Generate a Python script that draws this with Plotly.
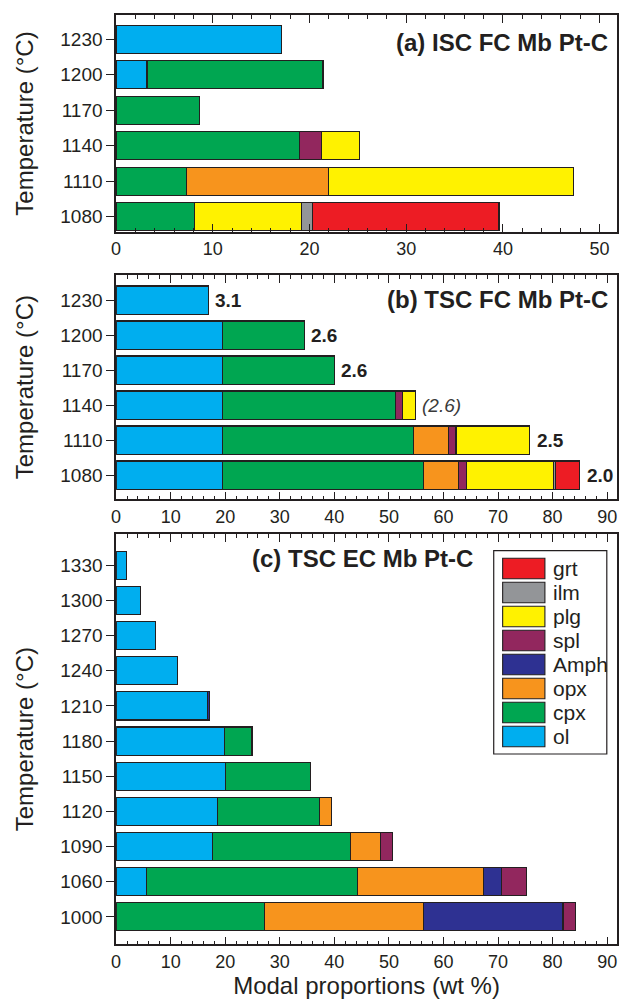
import plotly.graph_objects as go

# ---------------- data ----------------
minerals = ["ol", "cpx", "opx", "Amph", "spl", "plg", "ilm", "grt"]
colors = {
    "ol": "#00AEEF", "cpx": "#00A651", "opx": "#F7941D", "Amph": "#2E3192",
    "spl": "#92275E", "plg": "#FFF200", "ilm": "#939598", "grt": "#ED1C24",
}

# (a) ISC FC Mb Pt-C
temps_a = ["1080", "1110", "1140", "1170", "1200", "1230"]
a_ol = [None, None, None, None, 3.2, 17.1]
a_cpx = [8.1, 7.3, 19.0, 8.6, 18.2, None]
a_opx = [None, 14.7, None, None, None, None]
a_spl = [None, None, 2.2, None, None, None]
a_plg = [11.1, 25.3, 4.0, None, None, None]
a_ilm = [1.1, None, None, None, None, None]
a_grt = [19.3, None, None, None, None, None]

# (b) TSC FC Mb Pt-C
temps_b = ["1080", "1110", "1140", "1170", "1200", "1230"]
b_ol = [19.5, 19.5, 19.5, 19.5, 19.5, 16.9]
b_cpx = [36.8, 35.0, 31.7, 20.5, 15.0, None]
b_opx = [6.5, 6.4, None, None, None, None]
b_spl = [1.4, 1.4, 1.3, None, None, None]
b_plg = [16.0, 13.5, 2.3, None, None, None]
b_ilm = [0.4, None, None, None, None, None]
b_grt = [4.4, None, None, None, None, None]
b_labels = ["2.0", "2.5", "(2.6)", "2.6", "2.6", "3.1"]

# (c) TSC EC Mb Pt-C
temps_c = ["1000", "1060", "1090", "1120", "1150", "1180", "1210", "1240", "1270", "1300", "1330"]
c_ol = [None, 5.5, 17.7, 18.6, 20.0, 19.9, 16.8, 11.2, 7.2, 4.4, 1.9]
c_cpx = [27.2, 38.8, 25.3, 18.6, 15.7, 5.0, None, None, None, None, None]
c_opx = [29.1, 23.1, 5.4, 2.3, None, None, None, None, None, None, None]
c_amph = [25.6, 3.2, None, None, None, None, 0.4, None, None, None, None]
c_spl = [2.3, 4.6, 2.2, None, None, None, None, None, None, None, None]

panels = [
    ("a", temps_a, {"ol": a_ol, "cpx": a_cpx, "opx": a_opx, "spl": a_spl,
                    "plg": a_plg, "ilm": a_ilm, "grt": a_grt}),
    ("b", temps_b, {"ol": b_ol, "cpx": b_cpx, "opx": b_opx, "spl": b_spl,
                    "plg": b_plg, "ilm": b_ilm, "grt": b_grt}),
    ("c", temps_c, {"ol": c_ol, "cpx": c_cpx, "opx": c_opx, "Amph": c_amph,
                    "spl": c_spl}),
]
titles = ["(a) ISC FC Mb Pt-C", "(b) TSC FC Mb Pt-C", "(c) TSC EC Mb Pt-C"]

# ---------------- style ----------------
W, H = 619, 999
FONT = "Liberation Sans, Arial, Helvetica, sans-serif"
INK = "#231F20"
EDGE = "#231F20"

# plot-area boxes in pixels: (top, bottom)
boxes = [(15, 232), (275, 499.3), (534, 944.3)]
x_left, x_right = 112, 617
yranges = [[-0.43, 5.68], [-0.69, 5.72], [-0.78, 10.89]]
xranges = [[0, 51.8], [0, 91.8], [0, 91.8]]
bar_w = [0.79, 0.81, 0.80]

fig = go.Figure()

for i, (key, temps, comp) in enumerate(panels):
    xa = "x" if i == 0 else f"x{i+1}"
    ya = "y" if i == 0 else f"y{i+1}"
    for m in minerals:
        if m not in comp:
            continue
        fig.add_trace(go.Bar(
            y=temps, x=comp[m], orientation="h", name=m,
            xaxis=xa, yaxis=ya, width=bar_w[i],
            marker=dict(color=colors[m], line=dict(color=EDGE, width=1.1)),
            showlegend=False,
        ))

# bar-end labels of panel (b); category axes take the category index
b_parts = [b_ol, b_cpx, b_opx, b_spl, b_plg, b_ilm, b_grt]
for k, lab in enumerate(b_labels):
    total = sum(p[k] for p in b_parts if p[k] is not None)
    italic = lab.startswith("(")
    fig.add_annotation(
        x=total, y=k, xref="x2", yref="y2", xanchor="left", yanchor="middle",
        xshift=5, showarrow=False,
        text=f"<i>{lab}</i>" if italic else f"<b>{lab}</b>",
        font=dict(family=FONT, size=19, color="#3a3a3a" if italic else INK),
    )

layout = dict(
    width=W, height=H, margin=dict(l=0, r=0, t=0, b=0),
    paper_bgcolor="white", plot_bgcolor="white",
    barmode="stack", showlegend=False,
    font=dict(family=FONT, color=INK),
)

for i in range(3):
    top, bot = boxes[i]
    sx = "" if i == 0 else str(i + 1)
    layout[f"xaxis{sx}"] = dict(
        domain=[x_left / W, x_right / W], range=xranges[i],
        anchor=f"y{sx}", showgrid=False, zeroline=False,
        showline=True, linecolor=INK, linewidth=1.5, mirror="ticks",
        ticks="inside", ticklen=8, tickwidth=1.2, tickcolor=INK, dtick=10, tick0=0,
        minor=dict(dtick=2, tick0=0, ticks="inside", ticklen=4, tickwidth=1, tickcolor=INK),
        tickfont=dict(family=FONT, size=18, color=INK),
        title=dict(text="Modal proportions (wt %)" if i == 2 else "",
                   font=dict(family=FONT, size=24, color=INK), standoff=4),
    )
    layout[f"yaxis{sx}"] = dict(
        domain=[1 - bot / H, 1 - top / H], range=yranges[i],
        anchor=f"x{sx}", type="category",
        categoryorder="array", categoryarray=panels[i][1],
        showgrid=False, zeroline=False,
        showline=True, linecolor=INK, linewidth=1.5, mirror=True,
        ticks="outside", ticklen=8, tickwidth=1.2, tickcolor=INK,
        tickfont=dict(family=FONT, size=19, color=INK),
        title=dict(text="Temperature (°C)", font=dict(family=FONT, size=24, color=INK),
                   standoff=20),
    )

fig.update_layout(**layout)

# panel titles
title_pos = [(0.986, 0.871), (0.986, 0.889), (0.717, 0.941)]
for i, (tx, ty) in enumerate(title_pos):
    sx = "" if i == 0 else str(i + 1)
    fig.add_annotation(
        x=tx, y=ty, xref=f"x{sx} domain", yref=f"y{sx} domain",
        xanchor="right", yanchor="middle", showarrow=False,
        text=f"<b>{titles[i]}</b>", font=dict(family=FONT, size=24, color=INK),
    )

# legend box for panel (c)
legend_order = ["grt", "ilm", "plg", "spl", "Amph", "opx", "cpx", "ol"]
fig.add_shape(type="rect", xref="paper", yref="paper",
              x0=492.7 / W, x1=606.7 / W, y0=1 - 754 / H, y1=1 - 550.7 / H,
              line=dict(color=INK, width=1.2), fillcolor="white", layer="above")
for k, m in enumerate(legend_order):
    y_top = 558.3 + 24 * k
    y_bot = y_top + 20.5
    fig.add_shape(type="rect", xref="paper", yref="paper",
                  x0=501.7 / W, x1=544.3 / W, y0=1 - y_bot / H, y1=1 - y_top / H,
                  fillcolor=colors[m], line=dict(color=EDGE, width=1.1), layer="above")
    fig.add_annotation(x=550.7 / W, y=1 - (y_top + y_bot) / 2 / H,
                       xref="paper", yref="paper", xanchor="left", yanchor="middle",
                       showarrow=False, text=m,
                       font=dict(family=FONT, size=21, color=INK))

fig.write_html("out.html")
